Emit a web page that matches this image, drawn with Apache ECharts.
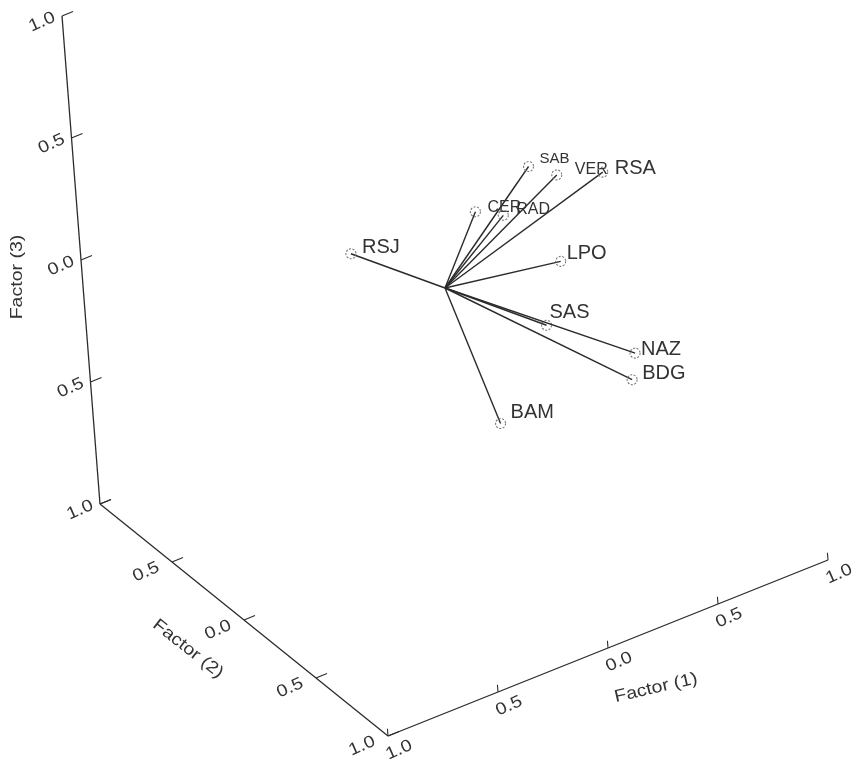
<!DOCTYPE html>
<html>
<head>
<meta charset="utf-8">
<script src="https://cdn.jsdelivr.net/npm/echarts@6/dist/echarts.min.js"></script>
<style>
html,body{margin:0;padding:0;background:#ffffff;}
#chart{width:853px;height:759px;}
</style>
</head>
<body>
<div id="chart"></div>
<script>
// ---- data: factor loadings (3 factors) ----
const variables = ['RSJ', 'SAB', 'VER', 'RSA', 'CER', 'RAD', 'LPO', 'SAS', 'NAZ', 'BDG', 'BAM'];
const factor1 = [-0.26, 0.41, 0.49, 0.64, 0.19, 0.27, 0.40, 0.28, 0.53, 0.49, 0.02];
const factor2 = [0.24, 0.00, -0.07, -0.16, 0.05, -0.02, -0.20, -0.26, -0.48, -0.51, -0.30];
const factor3 = [0.12, 0.35, 0.32, 0.32, 0.22, 0.21, 0.06, -0.13, -0.23, -0.31, -0.42];
const tickValues = [-1, -0.5, 0, 0.5, 1];
const tickLabels = ['1.0', '0.5', '0.0', '0.5', '1.0'];
const axisNames = ['Factor (1)', 'Factor (2)', 'Factor (3)'];

// ---- view / layout (oblique 3D projection onto a pixel-unit cartesian) ----
const VIEW = { cx: 445, cy: 288, e1: [220, -88], e2: [-144, -116], e3: [-19, -244] };
function project(f1, f2, f3) {
  return [
    VIEW.cx + f1 * VIEW.e1[0] + f2 * VIEW.e2[0] + f3 * VIEW.e3[0],
    VIEW.cy + f1 * VIEW.e1[1] + f2 * VIEW.e2[1] + f3 * VIEW.e3[1]
  ];
}
const AXES = [
  { point: t => [t, -1, -1], tick: [0, 0, 0.03], labelOffset: [11, 14], titleOffset: [48, 40], titleRot: 13, skip: [] },
  { point: t => [-1, t, -1], tick: [0.05, 0, 0], labelOffset: [-26, 10], titleOffset: [-56, 29], titleRot: -38, skip: [1] },
  { point: t => [-1, 1, t], tick: [0.05, 0, 0], labelOffset: [-20, 6], titleOffset: [-64, 17], titleRot: 90, skip: [] }
];
const LABEL_STYLE = {
  RSJ: { dx: 11, dy: -6, size: 20 },
  SAB: { dx: 11, dy: -8, size: 15 },
  VER: { dx: 18, dy: -5, size: 16 },
  RSA: { dx: 12, dy: -4, size: 20 },
  CER: { dx: 12, dy: -4, size: 16 },
  RAD: { dx: 13, dy: -6, size: 16 },
  LPO: { dx: 6, dy: -8, size: 20 },
  SAS: { dx: 3, dy: -13, size: 20 },
  NAZ: { dx: 6, dy: -4, size: 20 },
  BDG: { dx: 10, dy: -6, size: 20 },
  BAM: { dx: 10, dy: -11, size: 20 }
};
const FONT = '"Liberation Sans", Arial, sans-serif';
const INK = '#2b2b2b';
const TEXT = '#333333';

const chart = echarts.init(document.getElementById('chart'), null, { renderer: 'canvas' });

function renderAxis(params, api) {
  const a = AXES[api.value(0)];
  const children = [];
  const p0 = api.coord(project(...a.point(-1)));
  const p1 = api.coord(project(...a.point(1)));
  children.push({ type: 'line', shape: { x1: p0[0], y1: p0[1], x2: p1[0], y2: p1[1] },
    style: { stroke: INK, lineWidth: 1.3 } });
  tickValues.forEach((t, k) => {
    const b = a.point(t);
    const s = api.coord(project(...b));
    const e = api.coord(project(b[0] + a.tick[0], b[1] + a.tick[1], b[2] + a.tick[2]));
    children.push({ type: 'line', shape: { x1: s[0], y1: s[1], x2: e[0], y2: e[1] },
      style: { stroke: INK, lineWidth: 1.1 } });
    if (a.skip.indexOf(t) < 0) {
      children.push({ type: 'text', x: s[0] + a.labelOffset[0], y: s[1] + a.labelOffset[1],
        rotation: 24 * Math.PI / 180, scaleX: 1.15,
        style: { text: tickLabels[k], x: 0, y: 0, font: '17px ' + FONT, fill: TEXT,
          textAlign: 'center', textVerticalAlign: 'middle' } });
    }
  });
  const m = api.coord(project(...a.point(0)));
  children.push({ type: 'text', x: m[0] + a.titleOffset[0], y: m[1] + a.titleOffset[1],
    rotation: a.titleRot * Math.PI / 180, scaleX: 1.15,
    style: { text: axisNames[api.value(0)], x: 0, y: 0, font: '17px ' + FONT, fill: TEXT,
      textAlign: 'center', textVerticalAlign: 'middle' } });
  return { type: 'group', children: children };
}

function renderVector(params, api) {
  const name = variables[params.dataIndex];
  const st = LABEL_STYLE[name];
  const o = api.coord(project(0, 0, 0));
  const p = api.coord(project(api.value(0), api.value(1), api.value(2)));
  return {
    type: 'group',
    children: [
      { type: 'line', shape: { x1: o[0], y1: o[1], x2: p[0], y2: p[1] },
        style: { stroke: INK, lineWidth: 1.4 } },
      { type: 'circle', shape: { cx: p[0], cy: p[1], r: 5 },
        style: { fill: 'rgba(255,255,255,0)', stroke: '#777777', lineWidth: 1.1, lineDash: [2, 1.5] } },
      { type: 'text', x: p[0] + st.dx, y: p[1] + st.dy,
        style: { text: name, x: 0, y: 0, font: st.size + 'px ' + FONT, fill: TEXT,
          textAlign: 'left', textVerticalAlign: 'middle' } }
    ]
  };
}

chart.setOption({
  animation: false,
  backgroundColor: '#ffffff',
  grid: { left: 0, right: 0, top: 0, bottom: 0 },
  xAxis: { type: 'value', min: 0, max: 853, show: false },
  yAxis: { type: 'value', min: 0, max: 759, inverse: true, show: false },
  series: [
    {
      type: 'custom',
      name: 'axes',
      clip: false,
      silent: true,
      renderItem: renderAxis,
      data: axisNames.map((n, i) => [i])
    },
    {
      type: 'custom',
      name: 'loadings',
      clip: false,
      renderItem: renderVector,
      data: variables.map((n, i) => [factor1[i], factor2[i], factor3[i]])
    }
  ]
});
</script>
</body>
</html>
